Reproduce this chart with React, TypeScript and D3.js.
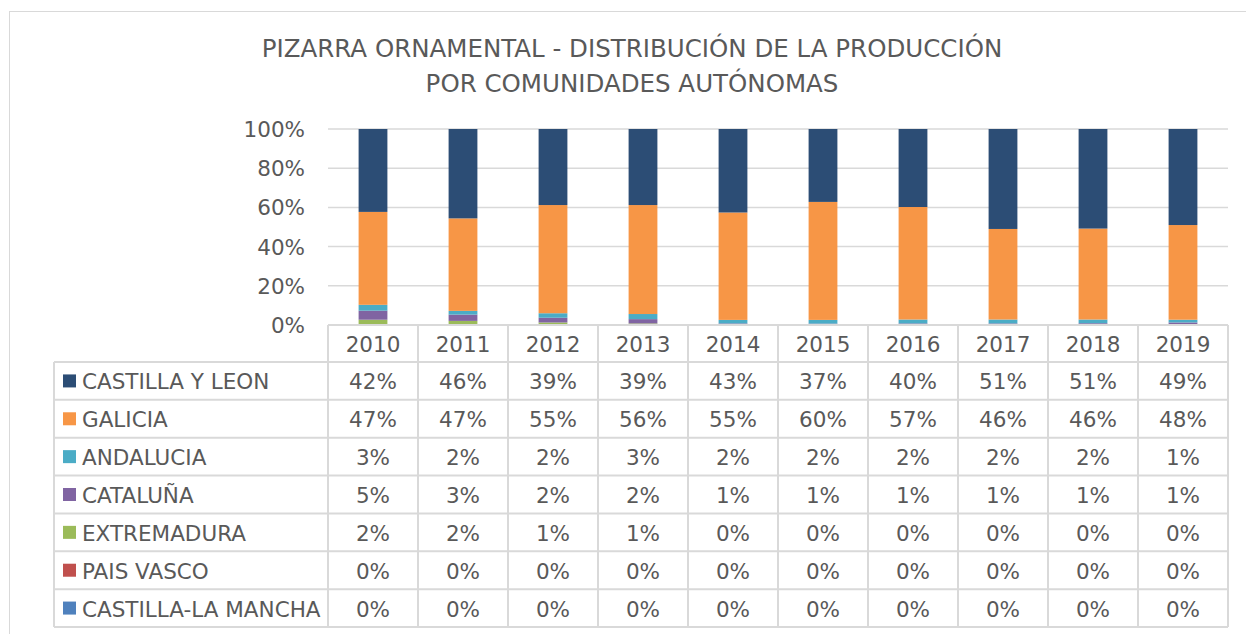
import React from 'react';
import * as d3 from 'd3';

const years = ['2010', '2011', '2012', '2013', '2014', '2015', '2016', '2017', '2018', '2019'];

// table order (top to bottom); bars stack in reverse
const regions = ['CASTILLA Y LEON', 'GALICIA', 'ANDALUCIA', 'CATALUÑA', 'EXTREMADURA', 'PAIS VASCO', 'CASTILLA-LA MANCHA'];
const colors = ['#2C4D75', '#F79646', '#4BACC6', '#8064A2', '#9BBB59', '#C0504D', '#4F81BD'];

// shares in percent
const castillaLeon = [42.3, 45.6, 38.8, 38.8, 42.6, 37.2, 39.8, 51.0, 50.8, 49.0];
const galicia = [47.4, 47.2, 55.2, 55.6, 54.8, 60.2, 57.4, 46.2, 46.4, 48.3];
const andalucia = [3.0, 1.9, 2.3, 2.6, 1.8, 1.9, 2.0, 2.0, 1.9, 1.4];
const cataluna = [4.6, 3.2, 2.4, 2.2, 0.6, 0.6, 0.7, 0.7, 0.8, 1.2];
const extremadura = [2.2, 1.8, 1.0, 0.8, 0.2, 0.1, 0.1, 0.1, 0.1, 0.1];
const paisVasco = [0.2, 0.2, 0.2, 0, 0, 0, 0, 0, 0, 0];
const castillaMancha = [0.3, 0.1, 0.1, 0, 0, 0, 0, 0, 0, 0];

const yTicks = [0, 0.2, 0.4, 0.6, 0.8, 1];

const series = [castillaLeon, galicia, andalucia, cataluna, extremadura, paisVasco, castillaMancha];

const FONT = "'DejaVu Sans', Verdana, sans-serif";
const GRID = '#D9D9D9';
const TXT = '#595959';

export default function App() {
  const left = 328, right = 1228, top = 129, bottom = 325;
  const tableTop = 362, tableBottom = 627;
  const legendLeft = 54;
  const fs = 21.5;

  const x = d3.scaleBand().domain(years).range([left, right]).padding(0);
  const barW = x.bandwidth() * 0.32;
  const y = d3.scaleLinear().domain([0, 1]).range([bottom, top]);
  const rowY = d3.scaleBand().domain(regions).range([tableTop, tableBottom]);
  const pct = d3.format('.0%');

  const rows = years.map((yr, i) => {
    const r: any = { year: yr };
    regions.forEach((name, j) => { r[name] = series[j][i] / 100; });
    return r;
  });
  const stack = d3.stack().keys([...regions].reverse())(rows);

  return (
    <svg width={1246} height={634} style={{ position: 'absolute', left: 0, top: 0, background: '#fff' }} fontFamily={FONT}>
      <rect x={9.5} y={11.5} width={1250} height={640} fill="#fff" stroke={GRID} />
      <text x={632} y={57} textAnchor="middle" fontSize={24.5} fill={TXT}>PIZARRA ORNAMENTAL - DISTRIBUCIÓN DE LA PRODUCCIÓN</text>
      <text x={632} y={92} textAnchor="middle" fontSize={24.5} fill={TXT}>POR COMUNIDADES AUTÓNOMAS</text>

      {yTicks.map(t => (
        <g key={t}>
          {t > 0 && <line x1={left} x2={right} y1={y(t)} y2={y(t)} stroke={GRID} strokeWidth={1.5} />}
          <text x={305} y={y(t) + 8} textAnchor="end" fontSize={fs} fill={TXT}>{pct(t)}</text>
        </g>
      ))}

      {stack.map(layer => {
        const color = colors[regions.indexOf(layer.key)];
        return (
          <g key={layer.key} fill={color}>
            {layer.map((d, i) => (
              <rect key={i} x={x(years[i])! + (x.bandwidth() - barW) / 2} width={barW}
                y={y(d[1])} height={Math.max(0, y(d[0]) - y(d[1]))} />
            ))}
          </g>
        );
      })}

      {/* data table */}
      <g stroke={GRID} strokeWidth={2} fill="none">
        <line x1={left} x2={right} y1={bottom} y2={bottom} />
        {regions.map(name => (
          <line key={name} x1={legendLeft} x2={right} y1={rowY(name)} y2={rowY(name)} />
        ))}
        <line x1={legendLeft} x2={right} y1={tableBottom} y2={tableBottom} />
        <line x1={legendLeft} x2={legendLeft} y1={tableTop} y2={tableBottom} />
        {years.map(yr => (
          <line key={yr} x1={x(yr)} x2={x(yr)} y1={bottom} y2={tableBottom} />
        ))}
        <line x1={right} x2={right} y1={bottom} y2={tableBottom} />
      </g>
      {years.map(yr => (
        <text key={yr} x={x(yr)! + x.bandwidth() / 2} y={352} textAnchor="middle" fontSize={fs} fill={TXT}>{yr}</text>
      ))}
      {regions.map((name, j) => {
        const cy = rowY(name)! + rowY.bandwidth() / 2;
        return (
          <g key={name}>
            <rect x={63} y={cy - 6.5} width={13} height={13} fill={colors[j]} />
            <text x={82} y={cy + 8.5} fontSize={fs} fill={TXT}>{name}</text>
            {years.map((yr, i) => (
              <text key={yr} x={x(yr)! + x.bandwidth() / 2} y={cy + 8.5} textAnchor="middle" fontSize={fs} fill={TXT}>
                {pct(series[j][i] / 100)}
              </text>
            ))}
          </g>
        );
      })}
    </svg>
  );
}
